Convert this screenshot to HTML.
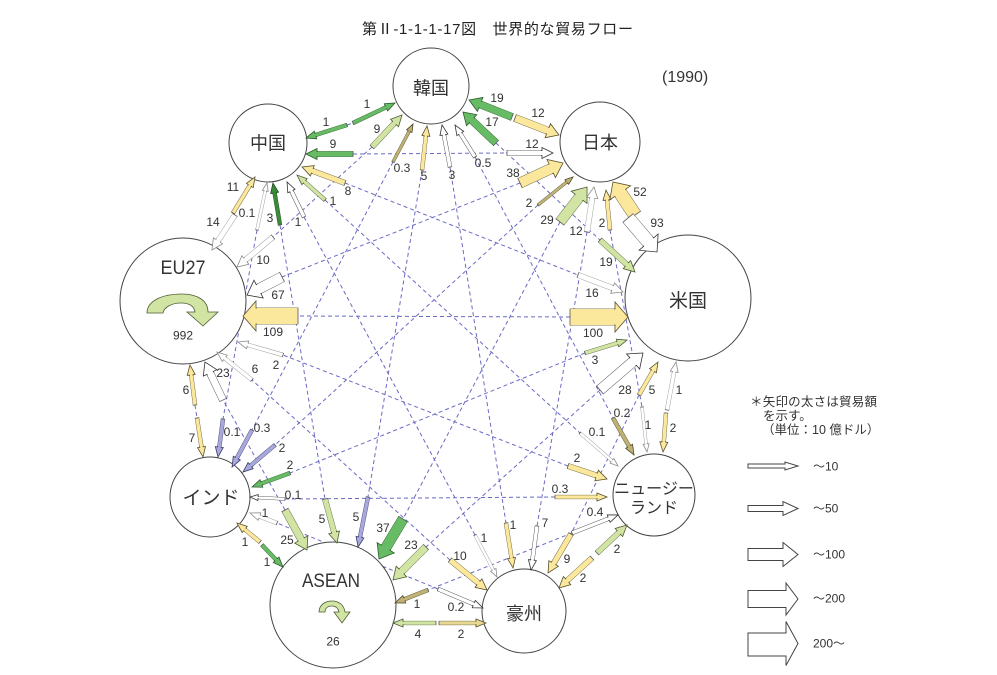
<!DOCTYPE html>
<html><head><meta charset="utf-8"><style>
html,body{margin:0;padding:0;background:#fff;}
svg{display:block;font-family:"Liberation Sans","Noto Sans CJK JP",sans-serif;}
.Y{--f:#fbe89c;--s:#5a5130}
.Y2{--f:#e7d993;--s:#5a5130}
.LG{--f:#d2e4a4;--s:#4d5b34}
.G{--f:#67bb64;--s:#2a5a2a}
.DG{--f:#3a8a3a;--s:#1d4a1d}
.LV{--f:#a8a8dc;--s:#3a3a6a}
.W{--f:#ffffff;--s:#333333}
.WL{--f:#ffffff;--s:#8c8c8c}
.OL{--f:#bfb274;--s:#4b472a}
.o{stroke:var(--s)}
.f{stroke:var(--f)}
marker{overflow:visible}
marker path{fill:var(--f);stroke:var(--s);stroke-width:.8}
marker path.t{fill:none;stroke:#555;stroke-width:.8}
.sA .o{stroke-width:3.3}.sA .f{stroke-width:2.5;marker-start:url(#tA)}
.sB .o{stroke-width:4.3}.sB .f{stroke-width:3.5;marker-start:url(#tB)}
.sC .o{stroke-width:5.8}.sC .f{stroke-width:5;marker-start:url(#tC)}
.sD .o{stroke-width:7.8}.sD .f{stroke-width:7;marker-start:url(#tD)}
.sE .o{stroke-width:10.8}.sE .f{stroke-width:10;marker-start:url(#tE)}
.sF .o{stroke-width:13.8}.sF .f{stroke-width:13;marker-start:url(#tF)}
.sG .o{stroke-width:16.8}.sG .f{stroke-width:16;marker-start:url(#tG)}
.n{font-size:12px;fill:#333;text-anchor:middle}
.nd{fill:#333;text-anchor:middle}
</style></head><body>
<svg width="997" height="675" viewBox="0 0 997 675" xmlns="http://www.w3.org/2000/svg">
<rect width="997" height="675" fill="#fff"/>
<defs>
<marker id="tA" viewBox="-2 -17 18 34" markerWidth="18" markerHeight="34" refX="0" refY="0" orient="auto" markerUnits="userSpaceOnUse"><path class="t" d="M0,-1.65V1.65"/></marker>
<marker id="tB" viewBox="-2 -17 18 34" markerWidth="18" markerHeight="34" refX="0" refY="0" orient="auto" markerUnits="userSpaceOnUse"><path class="t" d="M0,-2.15V2.15"/></marker>
<marker id="tC" viewBox="-2 -17 18 34" markerWidth="18" markerHeight="34" refX="0" refY="0" orient="auto" markerUnits="userSpaceOnUse"><path class="t" d="M0,-2.9V2.9"/></marker>
<marker id="tD" viewBox="-2 -17 18 34" markerWidth="18" markerHeight="34" refX="0" refY="0" orient="auto" markerUnits="userSpaceOnUse"><path class="t" d="M0,-3.9V3.9"/></marker>
<marker id="tE" viewBox="-2 -17 18 34" markerWidth="18" markerHeight="34" refX="0" refY="0" orient="auto" markerUnits="userSpaceOnUse"><path class="t" d="M0,-5.4V5.4"/></marker>
<marker id="tF" viewBox="-2 -17 18 34" markerWidth="18" markerHeight="34" refX="0" refY="0" orient="auto" markerUnits="userSpaceOnUse"><path class="t" d="M0,-6.9V6.9"/></marker>
<marker id="tG" viewBox="-2 -17 18 34" markerWidth="18" markerHeight="34" refX="0" refY="0" orient="auto" markerUnits="userSpaceOnUse"><path class="t" d="M0,-8.4V8.4"/></marker>
<marker id="m-B-G" viewBox="-2 -17 18 34" markerWidth="18" markerHeight="34" refX="0" refY="0" orient="auto" markerUnits="userSpaceOnUse"><path class="G" d="M-1,-1.75H0V-4L10,0L0,4V1.75H-1"/></marker>
<marker id="m-C-LG" viewBox="-2 -17 18 34" markerWidth="18" markerHeight="34" refX="0" refY="0" orient="auto" markerUnits="userSpaceOnUse"><path class="LG" d="M-1,-2.5H0V-5.5L11,0L0,5.5V2.5H-1"/></marker>
<marker id="m-A-OL" viewBox="-2 -17 18 34" markerWidth="18" markerHeight="34" refX="0" refY="0" orient="auto" markerUnits="userSpaceOnUse"><path class="OL" d="M-1,-1.25H0V-3L8,0L0,3V1.25H-1"/></marker>
<marker id="m-B-Y" viewBox="-2 -17 18 34" markerWidth="18" markerHeight="34" refX="0" refY="0" orient="auto" markerUnits="userSpaceOnUse"><path class="Y" d="M-1,-1.75H0V-4L10,0L0,4V1.75H-1"/></marker>
<marker id="m-B-W" viewBox="-2 -17 18 34" markerWidth="18" markerHeight="34" refX="0" refY="0" orient="auto" markerUnits="userSpaceOnUse"><path class="W" d="M-1,-1.75H0V-4L10,0L0,4V1.75H-1"/></marker>
<marker id="m-D-G" viewBox="-2 -17 18 34" markerWidth="18" markerHeight="34" refX="0" refY="0" orient="auto" markerUnits="userSpaceOnUse"><path class="G" d="M-1,-3.5H0V-7.5L12,0L0,7.5V3.5H-1"/></marker>
<marker id="m-D-Y" viewBox="-2 -17 18 34" markerWidth="18" markerHeight="34" refX="0" refY="0" orient="auto" markerUnits="userSpaceOnUse"><path class="Y" d="M-1,-3.5H0V-7.5L12,0L0,7.5V3.5H-1"/></marker>
<marker id="m-C-W" viewBox="-2 -17 18 34" markerWidth="18" markerHeight="34" refX="0" refY="0" orient="auto" markerUnits="userSpaceOnUse"><path class="W" d="M-1,-2.5H0V-5.5L11,0L0,5.5V2.5H-1"/></marker>
<marker id="m-E-Y" viewBox="-2 -17 18 34" markerWidth="18" markerHeight="34" refX="0" refY="0" orient="auto" markerUnits="userSpaceOnUse"><path class="Y" d="M-1,-5H0V-10L13,0L0,10V5H-1"/></marker>
<marker id="m-E-LG" viewBox="-2 -17 18 34" markerWidth="18" markerHeight="34" refX="0" refY="0" orient="auto" markerUnits="userSpaceOnUse"><path class="LG" d="M-1,-5H0V-10L13,0L0,10V5H-1"/></marker>
<marker id="m-C-WL" viewBox="-2 -17 18 34" markerWidth="18" markerHeight="34" refX="0" refY="0" orient="auto" markerUnits="userSpaceOnUse"><path class="WL" d="M-1,-2.5H0V-5.5L11,0L0,5.5V2.5H-1"/></marker>
<marker id="m-F-Y" viewBox="-2 -17 18 34" markerWidth="18" markerHeight="34" refX="0" refY="0" orient="auto" markerUnits="userSpaceOnUse"><path class="Y" d="M-1,-6.5H0V-12.5L13,0L0,12.5V6.5H-1"/></marker>
<marker id="m-F-W" viewBox="-2 -17 18 34" markerWidth="18" markerHeight="34" refX="0" refY="0" orient="auto" markerUnits="userSpaceOnUse"><path class="W" d="M-1,-6.5H0V-12.5L13,0L0,12.5V6.5H-1"/></marker>
<marker id="m-G-Y" viewBox="-2 -17 18 34" markerWidth="18" markerHeight="34" refX="0" refY="0" orient="auto" markerUnits="userSpaceOnUse"><path class="Y" d="M-1,-8H0V-15L13,0L0,15V8H-1"/></marker>
<marker id="m-B-LG" viewBox="-2 -17 18 34" markerWidth="18" markerHeight="34" refX="0" refY="0" orient="auto" markerUnits="userSpaceOnUse"><path class="LG" d="M-1,-1.75H0V-4L10,0L0,4V1.75H-1"/></marker>
<marker id="m-E-W" viewBox="-2 -17 18 34" markerWidth="18" markerHeight="34" refX="0" refY="0" orient="auto" markerUnits="userSpaceOnUse"><path class="W" d="M-1,-5H0V-10L13,0L0,10V5H-1"/></marker>
<marker id="m-B-WL" viewBox="-2 -17 18 34" markerWidth="18" markerHeight="34" refX="0" refY="0" orient="auto" markerUnits="userSpaceOnUse"><path class="WL" d="M-1,-1.75H0V-4L10,0L0,4V1.75H-1"/></marker>
<marker id="m-A-WL" viewBox="-2 -17 18 34" markerWidth="18" markerHeight="34" refX="0" refY="0" orient="auto" markerUnits="userSpaceOnUse"><path class="WL" d="M-1,-1.25H0V-3L8,0L0,3V1.25H-1"/></marker>
<marker id="m-B-OL" viewBox="-2 -17 18 34" markerWidth="18" markerHeight="34" refX="0" refY="0" orient="auto" markerUnits="userSpaceOnUse"><path class="OL" d="M-1,-1.75H0V-4L10,0L0,4V1.75H-1"/></marker>
<marker id="m-C-Y" viewBox="-2 -17 18 34" markerWidth="18" markerHeight="34" refX="0" refY="0" orient="auto" markerUnits="userSpaceOnUse"><path class="Y" d="M-1,-2.5H0V-5.5L11,0L0,5.5V2.5H-1"/></marker>
<marker id="m-B-Y2" viewBox="-2 -17 18 34" markerWidth="18" markerHeight="34" refX="0" refY="0" orient="auto" markerUnits="userSpaceOnUse"><path class="Y2" d="M-1,-1.75H0V-4L10,0L0,4V1.75H-1"/></marker>
<marker id="m-D-LG" viewBox="-2 -17 18 34" markerWidth="18" markerHeight="34" refX="0" refY="0" orient="auto" markerUnits="userSpaceOnUse"><path class="LG" d="M-1,-3.5H0V-7.5L12,0L0,7.5V3.5H-1"/></marker>
<marker id="m-E-G" viewBox="-2 -17 18 34" markerWidth="18" markerHeight="34" refX="0" refY="0" orient="auto" markerUnits="userSpaceOnUse"><path class="G" d="M-1,-5H0V-10L13,0L0,10V5H-1"/></marker>
<marker id="m-B-LV" viewBox="-2 -17 18 34" markerWidth="18" markerHeight="34" refX="0" refY="0" orient="auto" markerUnits="userSpaceOnUse"><path class="LV" d="M-1,-1.75H0V-4L10,0L0,4V1.75H-1"/></marker>
<marker id="m-C-G" viewBox="-2 -17 18 34" markerWidth="18" markerHeight="34" refX="0" refY="0" orient="auto" markerUnits="userSpaceOnUse"><path class="G" d="M-1,-2.5H0V-5.5L11,0L0,5.5V2.5H-1"/></marker>
<marker id="m-A-W" viewBox="-2 -17 18 34" markerWidth="18" markerHeight="34" refX="0" refY="0" orient="auto" markerUnits="userSpaceOnUse"><path class="W" d="M-1,-1.25H0V-3L8,0L0,3V1.25H-1"/></marker>
<marker id="m-D-W" viewBox="-2 -17 18 34" markerWidth="18" markerHeight="34" refX="0" refY="0" orient="auto" markerUnits="userSpaceOnUse"><path class="W" d="M-1,-3.5H0V-7.5L12,0L0,7.5V3.5H-1"/></marker>
<marker id="m-B-DG" viewBox="-2 -17 18 34" markerWidth="18" markerHeight="34" refX="0" refY="0" orient="auto" markerUnits="userSpaceOnUse"><path class="DG" d="M-1,-1.75H0V-4L10,0L0,4V1.75H-1"/></marker>
</defs>

<!-- title -->
<text x="362" y="34" font-size="15" fill="#222" textLength="271" lengthAdjust="spacing">第Ⅱ-1-1-1-17図　世界的な貿易フロー</text>
<text x="662" y="82" font-size="16" fill="#333">(1990)</text>

<!-- dashed connectors -->
<g stroke="#6a6ac4" stroke-width="1" stroke-dasharray="4 3" fill="none">
<line x1="347" y1="125" x2="353" y2="123"/>
<line x1="353" y1="154" x2="507" y2="153"/>
<line x1="345" y1="183" x2="578" y2="275"/>
<line x1="325" y1="200" x2="580" y2="433"/>
<line x1="304" y1="217" x2="475" y2="535"/>
<line x1="280" y1="225" x2="325" y2="499"/>
<line x1="257" y1="230" x2="223" y2="419"/>
<line x1="496" y1="143" x2="600" y2="240"/>
<line x1="475" y1="157" x2="613" y2="418"/>
<line x1="450" y1="167" x2="506" y2="523"/>
<line x1="422" y1="170" x2="368" y2="497"/>
<line x1="393" y1="162" x2="252" y2="430"/>
<line x1="372" y1="147" x2="273" y2="237"/>
<line x1="610" y1="230" x2="642" y2="407"/>
<line x1="587" y1="232" x2="537" y2="526"/>
<line x1="560" y1="222" x2="403" y2="519"/>
<line x1="538" y1="205" x2="275" y2="445"/>
<line x1="520" y1="183" x2="282" y2="277"/>
<line x1="639" y1="395" x2="571" y2="534"/>
<line x1="600" y1="390" x2="426" y2="547"/>
<line x1="585" y1="353" x2="290" y2="473"/>
<line x1="570" y1="317" x2="298" y2="316"/>
<line x1="572" y1="533" x2="428" y2="590"/>
<line x1="555" y1="497" x2="285" y2="499"/>
<line x1="568" y1="466" x2="283" y2="355"/>
<line x1="438" y1="589" x2="277" y2="523"/>
<line x1="450" y1="560" x2="252" y2="380"/>
<line x1="285" y1="510" x2="223" y2="400"/>
<line x1="195" y1="405" x2="197" y2="418"/>
</g>

<!-- nodes -->
<g fill="#fff" stroke="#444" stroke-width="1">
<circle cx="431" cy="86" r="38"/>
<circle cx="268" cy="143" r="39"/>
<circle cx="600" cy="142" r="40"/>
<circle cx="688" cy="298" r="63"/>
<circle cx="183" cy="301" r="63"/>
<circle cx="210" cy="497" r="40"/>
<circle cx="333" cy="605" r="63"/>
<circle cx="524" cy="611" r="42"/>
<circle cx="654" cy="495" r="41"/>
</g>

<!-- arrows -->
<g fill="none">
<g class="G sB"><line class="o" x1="353" y1="123" x2="386" y2="107.3"/><line class="f" x1="353" y1="123" x2="386" y2="107.3" marker-end="url(#m-B-G)"/></g>
<g class="LG sC"><line class="o" x1="372" y1="147" x2="394.5" y2="123"/><line class="f" x1="372" y1="147" x2="394.5" y2="123" marker-end="url(#m-C-LG)"/></g>
<g class="OL sA"><line class="o" x1="393" y1="162" x2="409.3" y2="131.1"/><line class="f" x1="393" y1="162" x2="409.3" y2="131.1" marker-end="url(#m-A-OL)"/></g>
<g class="Y sB"><line class="o" x1="422" y1="170" x2="425.9" y2="135.9"/><line class="f" x1="422" y1="170" x2="425.9" y2="135.9" marker-end="url(#m-B-Y)"/></g>
<g class="W sB"><line class="o" x1="450" y1="167" x2="443.9" y2="134.8"/><line class="f" x1="450" y1="167" x2="443.9" y2="134.8" marker-end="url(#m-B-W)"/></g>
<g class="W sB"><line class="o" x1="475" y1="157" x2="460.3" y2="133.5"/><line class="f" x1="475" y1="157" x2="460.3" y2="133.5" marker-end="url(#m-B-W)"/></g>
<g class="G sD"><line class="o" x1="496" y1="143" x2="471.7" y2="120.2"/><line class="f" x1="496" y1="143" x2="471.7" y2="120.2" marker-end="url(#m-D-G)"/></g>
<g class="G sD"><line class="o" x1="512" y1="117" x2="480.2" y2="104.4"/><line class="f" x1="512" y1="117" x2="480.2" y2="104.4" marker-end="url(#m-D-G)"/></g>
<g class="Y sD"><line class="o" x1="515" y1="118" x2="547.8" y2="130.7"/><line class="f" x1="515" y1="118" x2="547.8" y2="130.7" marker-end="url(#m-D-Y)"/></g>
<g class="W sC"><line class="o" x1="507" y1="153" x2="542" y2="153"/><line class="f" x1="507" y1="153" x2="542" y2="153" marker-end="url(#m-C-W)"/></g>
<g class="Y sE"><line class="o" x1="520" y1="183" x2="551.2" y2="168.5"/><line class="f" x1="520" y1="183" x2="551.2" y2="168.5" marker-end="url(#m-E-Y)"/></g>
<g class="OL sA"><line class="o" x1="538" y1="205" x2="566.8" y2="182"/><line class="f" x1="538" y1="205" x2="566.8" y2="182" marker-end="url(#m-A-OL)"/></g>
<g class="LG sE"><line class="o" x1="560" y1="222" x2="579.1" y2="197.3"/><line class="f" x1="560" y1="222" x2="579.1" y2="197.3" marker-end="url(#m-E-LG)"/></g>
<g class="WL sC"><line class="o" x1="587" y1="232" x2="592.3" y2="197.9"/><line class="f" x1="587" y1="232" x2="592.3" y2="197.9" marker-end="url(#m-C-WL)"/></g>
<g class="Y sB"><line class="o" x1="610" y1="230" x2="607" y2="200"/><line class="f" x1="610" y1="230" x2="607" y2="200" marker-end="url(#m-B-Y)"/></g>
<g class="Y sF"><line class="o" x1="635" y1="215" x2="620.2" y2="192.8"/><line class="f" x1="635" y1="215" x2="620.2" y2="192.8" marker-end="url(#m-F-Y)"/></g>
<g class="W sF"><line class="o" x1="628" y1="218" x2="648.6" y2="242.1"/><line class="f" x1="628" y1="218" x2="648.6" y2="242.1" marker-end="url(#m-F-W)"/></g>
<g class="LG sC"><line class="o" x1="600" y1="240" x2="626.9" y2="264.6"/><line class="f" x1="600" y1="240" x2="626.9" y2="264.6" marker-end="url(#m-C-LG)"/></g>
<g class="WL sC"><line class="o" x1="578" y1="275" x2="612.7" y2="288.1"/><line class="f" x1="578" y1="275" x2="612.7" y2="288.1" marker-end="url(#m-C-WL)"/></g>
<g class="Y sG"><line class="o" x1="570" y1="317" x2="615" y2="317"/><line class="f" x1="570" y1="317" x2="615" y2="317" marker-end="url(#m-G-Y)"/></g>
<g class="LG sB"><line class="o" x1="585" y1="353" x2="617.5" y2="343"/><line class="f" x1="585" y1="353" x2="617.5" y2="343" marker-end="url(#m-B-LG)"/></g>
<g class="W sE"><line class="o" x1="600" y1="390" x2="633.1" y2="361.5"/><line class="f" x1="600" y1="390" x2="633.1" y2="361.5" marker-end="url(#m-E-W)"/></g>
<g class="Y sB"><line class="o" x1="639" y1="395" x2="653" y2="370.7"/><line class="f" x1="639" y1="395" x2="653" y2="370.7" marker-end="url(#m-B-Y)"/></g>
<g class="WL sB"><line class="o" x1="667" y1="410" x2="674.2" y2="371.8"/><line class="f" x1="667" y1="410" x2="674.2" y2="371.8" marker-end="url(#m-B-WL)"/></g>
<g class="Y sB"><line class="o" x1="666" y1="413" x2="663.8" y2="442"/><line class="f" x1="666" y1="413" x2="663.8" y2="442" marker-end="url(#m-B-Y)"/></g>
<g class="WL sA"><line class="o" x1="642" y1="407" x2="646.1" y2="444"/><line class="f" x1="642" y1="407" x2="646.1" y2="444" marker-end="url(#m-A-WL)"/></g>
<g class="OL sB"><line class="o" x1="613" y1="418" x2="629.1" y2="446.3"/><line class="f" x1="613" y1="418" x2="629.1" y2="446.3" marker-end="url(#m-B-OL)"/></g>
<g class="WL sA"><line class="o" x1="580" y1="433" x2="612" y2="460.8"/><line class="f" x1="580" y1="433" x2="612" y2="460.8" marker-end="url(#m-A-WL)"/></g>
<g class="Y sC"><line class="o" x1="568" y1="466" x2="596.6" y2="475.5"/><line class="f" x1="568" y1="466" x2="596.6" y2="475.5" marker-end="url(#m-C-Y)"/></g>
<g class="Y sB"><line class="o" x1="555" y1="497" x2="597" y2="497"/><line class="f" x1="555" y1="497" x2="597" y2="497" marker-end="url(#m-B-Y)"/></g>
<g class="W sB"><line class="o" x1="572" y1="533" x2="608.7" y2="518.6"/><line class="f" x1="572" y1="533" x2="608.7" y2="518.6" marker-end="url(#m-B-W)"/></g>
<g class="LG sC"><line class="o" x1="597" y1="553" x2="618.9" y2="532.5"/><line class="f" x1="597" y1="553" x2="618.9" y2="532.5" marker-end="url(#m-C-LG)"/></g>
<g class="Y sC"><line class="o" x1="592" y1="558" x2="567.1" y2="580.6"/><line class="f" x1="592" y1="558" x2="567.1" y2="580.6" marker-end="url(#m-C-Y)"/></g>
<g class="Y sC"><line class="o" x1="571" y1="534" x2="553.6" y2="563.5"/><line class="f" x1="571" y1="534" x2="553.6" y2="563.5" marker-end="url(#m-C-Y)"/></g>
<g class="W sB"><line class="o" x1="537" y1="526" x2="532.4" y2="560.1"/><line class="f" x1="537" y1="526" x2="532.4" y2="560.1" marker-end="url(#m-B-W)"/></g>
<g class="Y sB"><line class="o" x1="506" y1="523" x2="511.5" y2="558.1"/><line class="f" x1="506" y1="523" x2="511.5" y2="558.1" marker-end="url(#m-B-Y)"/></g>
<g class="WL sA"><line class="o" x1="475" y1="535" x2="493.3" y2="569.9"/><line class="f" x1="475" y1="535" x2="493.3" y2="569.9" marker-end="url(#m-A-WL)"/></g>
<g class="Y sC"><line class="o" x1="450" y1="560" x2="478.5" y2="583.1"/><line class="f" x1="450" y1="560" x2="478.5" y2="583.1" marker-end="url(#m-C-Y)"/></g>
<g class="W sB"><line class="o" x1="438" y1="589" x2="473.8" y2="604.1"/><line class="f" x1="438" y1="589" x2="473.8" y2="604.1" marker-end="url(#m-B-W)"/></g>
<g class="Y2 sB"><line class="o" x1="439" y1="623" x2="476" y2="623"/><line class="f" x1="439" y1="623" x2="476" y2="623" marker-end="url(#m-B-Y2)"/></g>
<g class="LG sB"><line class="o" x1="436" y1="623" x2="403" y2="623"/><line class="f" x1="436" y1="623" x2="403" y2="623" marker-end="url(#m-B-LG)"/></g>
<g class="OL sB"><line class="o" x1="428" y1="590" x2="404.3" y2="599.3"/><line class="f" x1="428" y1="590" x2="404.3" y2="599.3" marker-end="url(#m-B-OL)"/></g>
<g class="LG sD"><line class="o" x1="426" y1="547" x2="401.5" y2="571.5"/><line class="f" x1="426" y1="547" x2="401.5" y2="571.5" marker-end="url(#m-D-LG)"/></g>
<g class="G sE"><line class="o" x1="403" y1="519" x2="385.7" y2="547.8"/><line class="f" x1="403" y1="519" x2="385.7" y2="547.8" marker-end="url(#m-E-G)"/></g>
<g class="LV sB"><line class="o" x1="368" y1="497" x2="360" y2="537.2"/><line class="f" x1="368" y1="497" x2="360" y2="537.2" marker-end="url(#m-B-LV)"/></g>
<g class="LG sC"><line class="o" x1="325" y1="499" x2="334.1" y2="532.4"/><line class="f" x1="325" y1="499" x2="334.1" y2="532.4" marker-end="url(#m-C-LG)"/></g>
<g class="LG sD"><line class="o" x1="285" y1="510" x2="301.2" y2="539.5"/><line class="f" x1="285" y1="510" x2="301.2" y2="539.5" marker-end="url(#m-D-LG)"/></g>
<g class="G sB"><line class="o" x1="262" y1="545" x2="276.1" y2="559.8"/><line class="f" x1="262" y1="545" x2="276.1" y2="559.8" marker-end="url(#m-B-G)"/></g>
<g class="Y sB"><line class="o" x1="197" y1="418" x2="201.5" y2="447.1"/><line class="f" x1="197" y1="418" x2="201.5" y2="447.1" marker-end="url(#m-B-Y)"/></g>
<g class="LV sB"><line class="o" x1="223" y1="419" x2="219.3" y2="447.1"/><line class="f" x1="223" y1="419" x2="219.3" y2="447.1" marker-end="url(#m-B-LV)"/></g>
<g class="LV sB"><line class="o" x1="252" y1="430" x2="236.8" y2="458.2"/><line class="f" x1="252" y1="430" x2="236.8" y2="458.2" marker-end="url(#m-B-LV)"/></g>
<g class="LV sB"><line class="o" x1="275" y1="445" x2="250.6" y2="465.6"/><line class="f" x1="275" y1="445" x2="250.6" y2="465.6" marker-end="url(#m-B-LV)"/></g>
<g class="G sB"><line class="o" x1="290" y1="473" x2="261.4" y2="483.5"/><line class="f" x1="290" y1="473" x2="261.4" y2="483.5" marker-end="url(#m-B-G)"/></g>
<g class="W sA"><line class="o" x1="285" y1="499" x2="258" y2="497.5"/><line class="f" x1="285" y1="499" x2="258" y2="497.5" marker-end="url(#m-A-W)"/></g>
<g class="WL sB"><line class="o" x1="277" y1="523" x2="259.4" y2="516.5"/><line class="f" x1="277" y1="523" x2="259.4" y2="516.5" marker-end="url(#m-B-WL)"/></g>
<g class="Y sB"><line class="o" x1="260" y1="542" x2="244.7" y2="529.4"/><line class="f" x1="260" y1="542" x2="244.7" y2="529.4" marker-end="url(#m-B-Y)"/></g>
<g class="WL sC"><line class="o" x1="235" y1="215" x2="218" y2="240.8"/><line class="f" x1="235" y1="215" x2="218" y2="240.8" marker-end="url(#m-C-WL)"/></g>
<g class="WL sC"><line class="o" x1="273" y1="237" x2="245.4" y2="260"/><line class="f" x1="273" y1="237" x2="245.4" y2="260" marker-end="url(#m-C-WL)"/></g>
<g class="W sE"><line class="o" x1="282" y1="277" x2="258.6" y2="289.1"/><line class="f" x1="282" y1="277" x2="258.6" y2="289.1" marker-end="url(#m-E-W)"/></g>
<g class="Y sG"><line class="o" x1="298" y1="316" x2="256" y2="316"/><line class="f" x1="298" y1="316" x2="256" y2="316" marker-end="url(#m-G-Y)"/></g>
<g class="WL sB"><line class="o" x1="283" y1="355" x2="247.6" y2="344.8"/><line class="f" x1="283" y1="355" x2="247.6" y2="344.8" marker-end="url(#m-B-WL)"/></g>
<g class="WL sB"><line class="o" x1="252" y1="380" x2="224.8" y2="358.3"/><line class="f" x1="252" y1="380" x2="224.8" y2="358.3" marker-end="url(#m-B-WL)"/></g>
<g class="W sD"><line class="o" x1="223" y1="400" x2="210.1" y2="372.9"/><line class="f" x1="223" y1="400" x2="210.1" y2="372.9" marker-end="url(#m-D-W)"/></g>
<g class="Y sB"><line class="o" x1="195" y1="405" x2="191.2" y2="374.9"/><line class="f" x1="195" y1="405" x2="191.2" y2="374.9" marker-end="url(#m-B-Y)"/></g>
<g class="G sB"><line class="o" x1="347" y1="125" x2="315.5" y2="135"/><line class="f" x1="347" y1="125" x2="315.5" y2="135" marker-end="url(#m-B-G)"/></g>
<g class="G sC"><line class="o" x1="353" y1="154" x2="317" y2="154"/><line class="f" x1="353" y1="154" x2="317" y2="154" marker-end="url(#m-C-G)"/></g>
<g class="Y sC"><line class="o" x1="345" y1="183" x2="312.3" y2="170.8"/><line class="f" x1="345" y1="183" x2="312.3" y2="170.8" marker-end="url(#m-C-Y)"/></g>
<g class="LG sB"><line class="o" x1="325" y1="200" x2="304.5" y2="181.7"/><line class="f" x1="325" y1="200" x2="304.5" y2="181.7" marker-end="url(#m-B-LG)"/></g>
<g class="W sB"><line class="o" x1="304" y1="217" x2="291.4" y2="191"/><line class="f" x1="304" y1="217" x2="291.4" y2="191" marker-end="url(#m-B-W)"/></g>
<g class="DG sB"><line class="o" x1="280" y1="225" x2="274.6" y2="192.9"/><line class="f" x1="280" y1="225" x2="274.6" y2="192.9" marker-end="url(#m-B-DG)"/></g>
<g class="WL sA"><line class="o" x1="257" y1="230" x2="265.3" y2="190.8"/><line class="f" x1="257" y1="230" x2="265.3" y2="190.8" marker-end="url(#m-A-WL)"/></g>
<g class="Y sB"><line class="o" x1="233" y1="213" x2="249.8" y2="185.5"/><line class="f" x1="233" y1="213" x2="249.8" y2="185.5" marker-end="url(#m-B-Y)"/></g>
</g>

<!-- internal trade curved arrows -->
<path d="M147,313 C147,301 162,294 182,294 C198,294 208,301 208,312 L218,312 L203,326 L187,312 L195,312 C194,306 189,303 181,303 C172,303 164,307 163,313 Z" fill="#d2e4a4" stroke="#4d5b34" stroke-width=".8"/>
<path d="M319,612 C319,605 325,601 332,601 C339,601 344,605 345,612 L350,612 L342,623 L334,612 L339,612 C338,608 336,606 332,606 C328,606 325,608 325,612 Z" fill="#d2e4a4" stroke="#4d5b34" stroke-width=".8"/>

<!-- node labels -->
<text class="nd" x="431" y="94.5" font-size="18">韓国</text>
<text class="nd" x="268" y="149.5" font-size="18">中国</text>
<text class="nd" x="600" y="149" font-size="18">日本</text>
<text class="nd" x="688" y="307" font-size="19">米国</text>
<text class="nd" x="183" y="274" font-size="19" textLength="45" lengthAdjust="spacingAndGlyphs">EU27</text>
<text class="nd" x="211" y="504" font-size="19">インド</text>
<text class="nd" x="331" y="587" font-size="19" textLength="58" lengthAdjust="spacingAndGlyphs">ASEAN</text>
<text class="nd" x="524" y="620" font-size="18">豪州</text>
<text class="nd" x="654" y="494" font-size="16">ニュージー</text>
<text class="nd" x="654" y="513" font-size="16">ランド</text>
<text class="n" x="183" y="339.5">992</text>
<text class="n" x="333" y="645.5">26</text>

<!-- value labels -->
<g class="n">
<text class="n" x="367" y="108">1</text>
<text class="n" x="377" y="133">9</text>
<text class="n" x="402" y="172">0.3</text>
<text class="n" x="424" y="180">5</text>
<text class="n" x="452" y="179">3</text>
<text class="n" x="483" y="167">0.5</text>
<text class="n" x="492" y="126">17</text>
<text class="n" x="497" y="102">19</text>
<text class="n" x="538" y="117">12</text>
<text class="n" x="532" y="148">12</text>
<text class="n" x="513" y="177">38</text>
<text class="n" x="529" y="207">2</text>
<text class="n" x="547" y="224">29</text>
<text class="n" x="576" y="235">12</text>
<text class="n" x="602" y="227">2</text>
<text class="n" x="640" y="196">52</text>
<text class="n" x="657" y="227">93</text>
<text class="n" x="606" y="266">19</text>
<text class="n" x="592" y="297">16</text>
<text class="n" x="593" y="337">100</text>
<text class="n" x="595" y="364">3</text>
<text class="n" x="625" y="394">28</text>
<text class="n" x="652" y="394">5</text>
<text class="n" x="679" y="394">1</text>
<text class="n" x="673" y="432">2</text>
<text class="n" x="648" y="429">1</text>
<text class="n" x="622" y="417">0.2</text>
<text class="n" x="597" y="436">0.1</text>
<text class="n" x="577" y="462">2</text>
<text class="n" x="560" y="493">0.3</text>
<text class="n" x="595" y="516">0.4</text>
<text class="n" x="617" y="553">2</text>
<text class="n" x="583" y="582">2</text>
<text class="n" x="567" y="563">9</text>
<text class="n" x="545" y="527">7</text>
<text class="n" x="513" y="529">1</text>
<text class="n" x="484" y="542">1</text>
<text class="n" x="460" y="560">10</text>
<text class="n" x="456" y="611">0.2</text>
<text class="n" x="461" y="638">2</text>
<text class="n" x="418" y="638">4</text>
<text class="n" x="417" y="608">1</text>
<text class="n" x="411" y="549">23</text>
<text class="n" x="383" y="532">37</text>
<text class="n" x="356" y="521">5</text>
<text class="n" x="322" y="523">5</text>
<text class="n" x="287" y="544">25</text>
<text class="n" x="267" y="566">1</text>
<text class="n" x="192" y="442">7</text>
<text class="n" x="232" y="436">0.1</text>
<text class="n" x="262" y="432">0.3</text>
<text class="n" x="282" y="452">2</text>
<text class="n" x="290" y="469">2</text>
<text class="n" x="293" y="499">0.1</text>
<text class="n" x="265" y="517">1</text>
<text class="n" x="245" y="546">1</text>
<text class="n" x="213" y="226">14</text>
<text class="n" x="263" y="264">10</text>
<text class="n" x="278" y="299">67</text>
<text class="n" x="273" y="336">109</text>
<text class="n" x="276" y="369">2</text>
<text class="n" x="255" y="373">6</text>
<text class="n" x="223" y="377">23</text>
<text class="n" x="186" y="394">6</text>
<text class="n" x="326" y="126">1</text>
<text class="n" x="333" y="148">9</text>
<text class="n" x="348" y="195">8</text>
<text class="n" x="333" y="205">1</text>
<text class="n" x="298" y="226">1</text>
<text class="n" x="270" y="222">3</text>
<text class="n" x="247" y="217">0.1</text>
<text class="n" x="233" y="191">11</text>
</g>

<!-- legend -->
<text x="750" y="406" font-size="12.5" fill="#333" textLength="127" lengthAdjust="spacing">＊矢印の太さは貿易額</text>
<text x="763" y="420" font-size="12.5" fill="#333">を示す。</text>
<text x="762" y="434" font-size="12.5" fill="#333">（単位：10&#160;億ドル）</text>
<g fill="#fff" stroke="#444" stroke-width="1">
<polygon points="748,464 785,464 785,462 798,466 785,470 785,468 748,468"/>
<polygon points="748,505.5 783,505.5 783,501.5 798,508.5 783,515.5 783,511.5 748,511.5"/>
<polygon points="748,548.5 783,548.5 783,542.5 798,554.5 783,566.5 783,560.5 748,560.5"/>
<polygon points="748,590.5 786,590.5 786,583 798,599 786,615 786,607.5 748,607.5"/>
<polygon points="748,633 786,633 786,621.5 798,643.5 786,665.5 786,656 748,656"/>
</g>
<g font-size="12" fill="#333">
<text x="813" y="470.5">～10</text>
<text x="813" y="512.5">～50</text>
<text x="813" y="558.5">～100</text>
<text x="813" y="602.5">～200</text>
<text x="813" y="647.5">200～</text>
</g>
</svg>
</body></html>
